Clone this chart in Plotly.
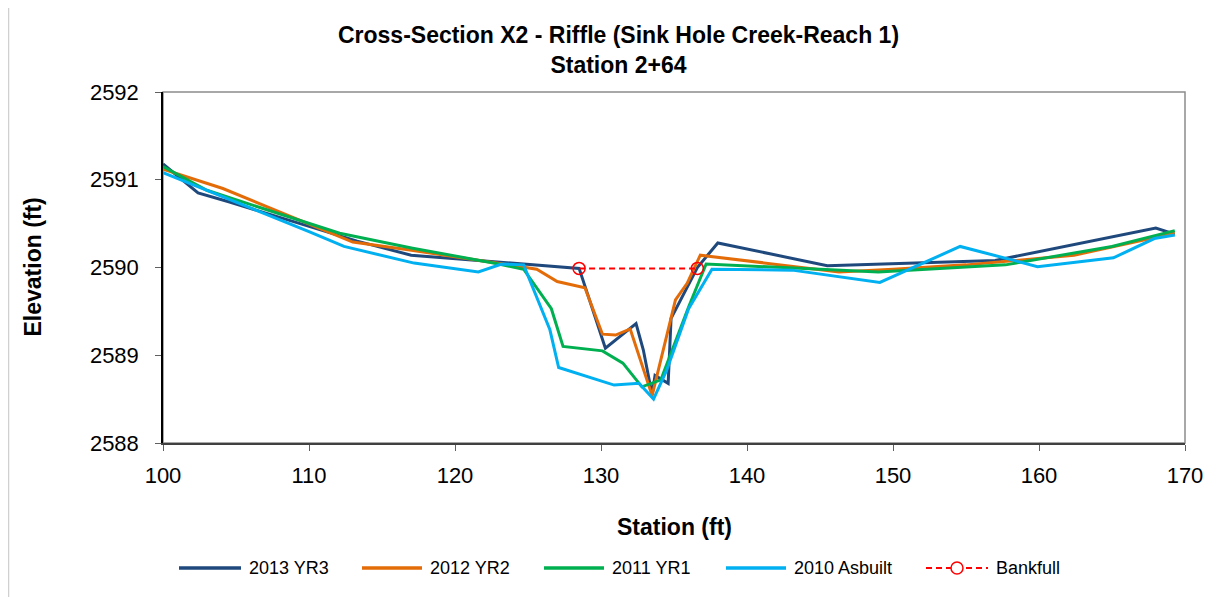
import plotly.graph_objects as go

# 2013 YR3
x_2013 = [100, 102.4, 104.5, 110, 113.3, 117, 123, 128.5, 130.3, 132.4, 132.9, 133.5, 133.7, 134.6, 134.8, 136.6, 138.0, 145.5, 157, 168, 169.3]
y_2013 = [2591.18, 2590.85, 2590.75, 2590.47, 2590.30, 2590.14, 2590.06, 2589.99, 2589.08, 2589.36, 2589.06, 2588.55, 2588.77, 2588.68, 2589.42, 2590.00, 2590.28, 2590.02, 2590.08, 2590.45, 2590.38]

# 2012 YR2
x_2012 = [100, 104.1, 113, 116.9, 121.7, 125.6, 127.0, 128.9, 130.1, 131.0, 132.0, 133.5, 135.1, 135.9, 136.8, 146.3, 150, 155, 162.4, 169.3]
y_2012 = [2591.12, 2590.90, 2590.29, 2590.20, 2590.08, 2589.98, 2589.84, 2589.77, 2589.24, 2589.23, 2589.30, 2588.54, 2589.63, 2589.82, 2590.14, 2589.95, 2589.98, 2590.03, 2590.14, 2590.39]

# 2011 YR1
x_2011 = [100, 103, 112.1, 117.1, 123, 124.7, 126.6, 127.4, 130.1, 131.5, 132.8, 134.1, 136.0, 137.2, 149, 157.7, 165, 169.3]
y_2011 = [2591.15, 2590.88, 2590.39, 2590.22, 2590.04, 2589.98, 2589.53, 2589.10, 2589.05, 2588.91, 2588.64, 2588.72, 2589.55, 2590.04, 2589.95, 2590.03, 2590.24, 2590.42]

# 2010 Asbuilt
x_2010 = [100, 110, 112.4, 117.2, 121.6, 123.2, 124.7, 126.5, 127.1, 130.9, 132.6, 133.6, 134.5, 136.0, 137.6, 143.1, 149.1, 154.6, 159.9, 165.1, 167.9, 169.3]
y_2010 = [2591.08, 2590.41, 2590.24, 2590.05, 2589.95, 2590.04, 2590.03, 2589.29, 2588.86, 2588.66, 2588.68, 2588.50, 2588.83, 2589.53, 2589.98, 2589.97, 2589.83, 2590.24, 2590.01, 2590.11, 2590.33, 2590.37]

# Bankfull
x_bkf = [128.5, 136.6]
y_bkf = [2589.99, 2589.99]

names = ["2013 YR3", "2012 YR2", "2011 YR1", "2010 Asbuilt"]
colors = ["#1F497D", "#E36C09", "#00B050", "#00B0F0"]
xs_all = [x_2013, x_2012, x_2011, x_2010]
ys_all = [y_2013, y_2012, y_2011, y_2010]

FONT = "Liberation Sans, Arial, sans-serif"
W, H = 1221, 597
L, T, R, B = 155, 84, 44, 162   # page body adds 8px margin
PW, PH = W - L - R, H - T - B


def px(sx):
    # screen x -> paper x
    return (sx - 8 - L) / PW


def py(sy):
    # screen y -> paper y
    return (H - B - (sy - 8)) / PH


fig = go.Figure()
for name, xs, ys, color in zip(names, xs_all, ys_all, colors):
    fig.add_trace(go.Scatter(x=xs, y=ys, mode="lines", name=name,
                             line=dict(color=color, width=3)))

fig.add_trace(go.Scatter(
    x=x_bkf, y=y_bkf, mode="lines+markers", name="Bankfull",
    line=dict(color="#FF0000", width=2, dash="6px,4px"),
    marker=dict(symbol="circle-open", size=12, color="#FF0000", line=dict(width=1.5)),
))

# hand-built legend (Excel style, long samples)
leg_y = py(568)
leg_lines = [(179, 241), (362, 422), (544, 604), (726, 786)]
leg_text_x = [247, 428, 610, 792]
shapes = [
    dict(type="rect", xref="paper", yref="paper", x0=0, x1=1, y0=0, y1=1,
         line=dict(color="#8C8C8C", width=1.5), layer="below"),
    dict(type="line", xref="paper", yref="paper", x0=px(8.5), x1=px(8.5), y0=py(8), y1=py(605),
         line=dict(color="#D0D0D0", width=1.5)),
]
annotations = []
for (a, b), tx, name, color in zip(leg_lines, leg_text_x, names, colors):
    shapes.append(dict(type="line", xref="paper", yref="paper", x0=px(a), x1=px(b),
                       y0=leg_y, y1=leg_y, line=dict(color=color, width=3.5)))
    annotations.append(dict(text=name, xref="paper", yref="paper", x=px(tx), y=leg_y,
                            xanchor="left", yanchor="middle", showarrow=False,
                            font=dict(size=18)))
shapes.append(dict(type="line", xref="paper", yref="paper", x0=px(926), x1=px(988),
                   y0=leg_y, y1=leg_y, line=dict(color="#FF0000", width=2, dash="6px,4px")))
shapes.append(dict(type="circle", xref="paper", yref="paper",
                   x0=px(951), x1=px(963), y0=py(574), y1=py(562),
                   line=dict(color="#FF0000", width=1.5), fillcolor="white"))
annotations.append(dict(text="Bankfull", xref="paper", yref="paper", x=px(994), y=leg_y,
                        xanchor="left", yanchor="middle", showarrow=False,
                        font=dict(size=18)))

# axis titles
annotations.append(dict(text="<b>Station (ft)</b>", xref="paper", yref="paper",
                        x=0.5, y=py(527), xanchor="center", yanchor="middle",
                        showarrow=False, font=dict(size=23)))
annotations.append(dict(text="<b>Elevation (ft)</b>", xref="paper", yref="paper",
                        x=px(32), y=0.5, xanchor="center", yanchor="middle",
                        textangle=-90, showarrow=False, font=dict(size=23)))

fig.update_layout(
    width=W, height=H,
    paper_bgcolor="white", plot_bgcolor="white",
    margin=dict(l=L, r=R, t=T, b=B),
    font=dict(family=FONT, size=22, color="black"),
    title=dict(
        text="<b>Cross-Section X2 - Riffle (Sink Hole Creek-Reach 1)<br>Station 2+64</b>",
        x=0.5, xanchor="center", y=1 - 35 / H, yanchor="top",
        font=dict(size=23),
    ),
    showlegend=False,
    shapes=shapes,
    annotations=annotations,
)

fig.update_xaxes(
    range=[100, 170], dtick=10, tick0=100,
    showline=True, linecolor="#404040", linewidth=1.5,
    ticks="outside", ticklen=6, tickcolor="#606060",
    showgrid=False, zeroline=False, ticklabelstandoff=6,
    tickfont=dict(size=22),
)
fig.update_yaxes(
    range=[2588, 2592], dtick=1,
    showline=True, linecolor="black", linewidth=1.5,
    ticks="outside", ticklen=6, tickcolor="#606060",
    showgrid=False, zeroline=False, ticklabelstandoff=12,
    tickfont=dict(size=22),
)

fig.write_html("out.html")
